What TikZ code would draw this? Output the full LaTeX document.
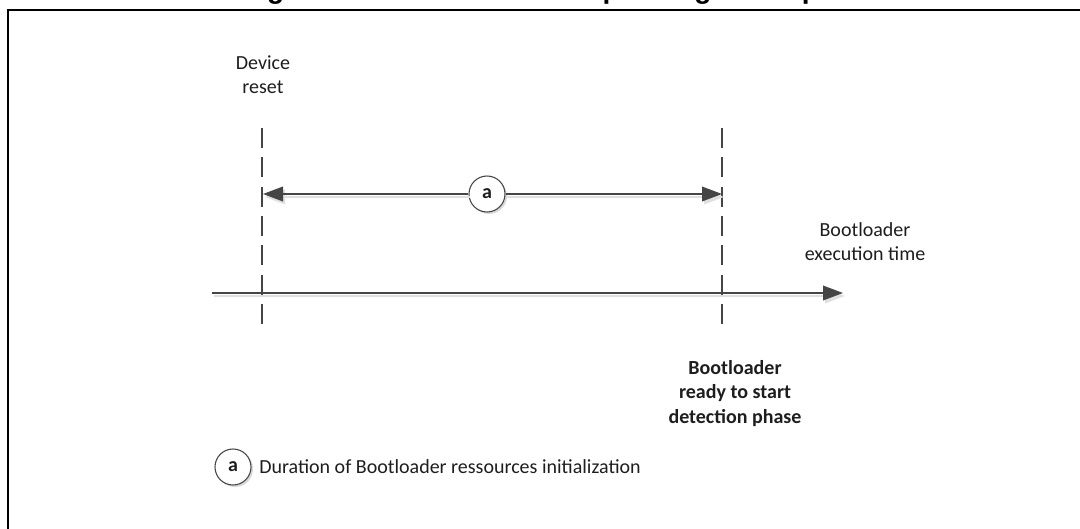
\documentclass[tikz,border=0pt]{standalone}
\usepackage{fontspec}
\setmainfont{Carlito}
\newfontfamily\titlefont{Liberation Sans}
\usetikzlibrary{arrows.meta,shadows}
\definecolor{linec}{HTML}{454545}
\definecolor{textc}{HTML}{1E1E1E}
\begin{document}
\begin{tikzpicture}[x=0.75pt,y=-0.75pt,
  lbl/.style={font=\fontsize{15}{18}\selectfont, text=textc, align=center, inner sep=0pt},
  boldlbl/.style={lbl, font=\fontsize{15}{18.3}\selectfont\bfseries},
  circmark/.style={circle, draw=linec, line width=0.8pt, fill=white, minimum size=27pt, inner sep=0pt,
     font=\fontsize{15}{18}\selectfont\bfseries, text=textc,
     drop shadow={shadow xshift=1.5pt, shadow yshift=-1.5pt, fill=black!15, opacity=1}},
  guide/.style={draw=linec, line width=0.9pt, dash pattern=on 15pt off 7pt},
  arr/.style={draw=linec, line width=1.1pt, -{Triangle[length=15pt,width=11pt]}},
  shade/.style={draw=black!12, line width=1.1pt, -{Triangle[length=15pt,width=11pt,color=black!12]}},
]
\useasboundingbox (0,0) rectangle (1080,528);
\fill[white] (0,0) rectangle (1080,528);
% frame
\draw[line width=1.9pt, black] (8,560) -- (8,10) -- (1100,10);
% title (cut at top)
\node[anchor=base west, inner sep=0pt, font=\titlefont\fontsize{21}{24}\selectfont\bfseries] (title) at (242,-1.5) {Figure 3. Bootloader startup timing description};
% labels
\node[lbl] (reset) at (263,75) {Device\\reset};
\node[lbl] (exec) at (865,241.5) {Bootloader\\execution time};
\node[boldlbl] (ready) at (735,393.5) {Bootloader\\ready to start\\detection phase};
% guides
\coordinate (l1) at (262,128); \coordinate (l2) at (262,324);
\coordinate (r1) at (722,128); \coordinate (r2) at (722,324);
\draw[guide] (l1) -- (l2);
\draw[guide] (r1) -- (r2);
% timeline
\coordinate (t0) at (212,293); \coordinate (t1) at (843,293);
\coordinate (t0s) at (214,296); \coordinate (t1s) at (845,296);
\draw[shade] (t0s) -- (t1s);
\draw[arr] (t0) -- (t1);
% duration
\node[circmark] (ca) at (487,194) {a};
\coordinate (al) at (263,194); \coordinate (ar) at (722,194);
\coordinate (als) at (265,197); \coordinate (ars) at (724,197);
\coordinate (cls) at (470,197); \coordinate (crs) at (506,197);
\draw[shade] (cls) -- (als);
\draw[shade] (crs) -- (ars);
\draw[arr] (ca.west) -- (al);
\draw[arr] (ca.east) -- (ar);
% legend
\node[circmark] (lc) at (233,467) {a};
\node[lbl, anchor=west] (lt) at (259,467) {Duration of Bootloader ressources initialization};
\end{tikzpicture}
\end{document}
